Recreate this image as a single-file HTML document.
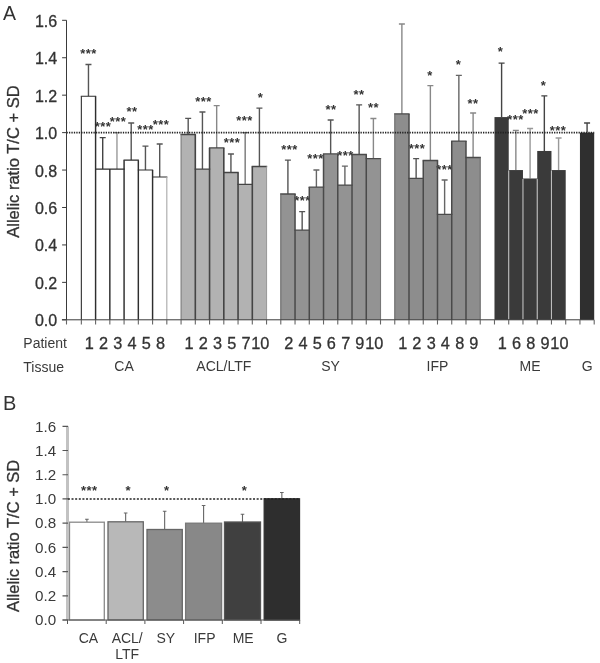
<!DOCTYPE html>
<html lang="en"><head><meta charset="utf-8"><title>Allelic ratio figure</title>
<style>html,body{margin:0;padding:0;background:#fff}body{width:600px;height:663px;overflow:hidden}svg{display:block}text{stroke:#333;stroke-width:.3px}text[stroke=none]{stroke:none}</style>
</head><body>
<svg width="600" height="663" viewBox="0 0 600 663" font-family='"Liberation Sans", sans-serif' fill="#333"><defs><filter id="soft" x="0" y="0" width="100%" height="100%" filterUnits="userSpaceOnUse" color-interpolation-filters="sRGB"><feGaussianBlur stdDeviation="0.4"/></filter></defs><g stroke="none" filter="url(#soft)">
<rect width="600" height="663" fill="#fff"/>
<text x="3" y="19.6" font-size="19.5" stroke="none">A</text>
<text x="3" y="409.8" font-size="20" stroke="none">B</text>
<path d="M88.47 96.30V64.48M85.47 64.48H91.47" stroke="#555" stroke-width="1.4" fill="none"/>
<rect x="81.35" y="96.30" width="14.25" height="223.50" fill="#ffffff"/>
<text x="88.5" y="57.5" font-size="13" font-weight="bold" letter-spacing="0.45" stroke="none" text-anchor="middle">***</text>
<text x="89.3" y="348.5" font-size="16.3" text-anchor="middle">1</text>
<path d="M102.71 169.11V137.67M99.71 137.67H105.71" stroke="#444" stroke-width="1.4" fill="none"/>
<rect x="95.59" y="169.11" width="14.25" height="150.69" fill="#ffffff"/>
<text x="103.0" y="131.1" font-size="13" font-weight="bold" letter-spacing="0.45" stroke="none" text-anchor="middle">***</text>
<text x="103.5" y="348.5" font-size="16.3" text-anchor="middle">2</text>
<path d="M116.96 169.11V132.61M113.96 132.61H119.96" stroke="#999" stroke-width="1.4" fill="none"/>
<rect x="109.84" y="169.11" width="14.25" height="150.69" fill="#ffffff"/>
<text x="118.0" y="126.1" font-size="13" font-weight="bold" letter-spacing="0.45" stroke="none" text-anchor="middle">***</text>
<text x="117.8" y="348.5" font-size="16.3" text-anchor="middle">3</text>
<path d="M131.21 160.13V123.07M128.21 123.07H134.21" stroke="#555" stroke-width="1.4" fill="none"/>
<rect x="124.08" y="160.13" width="14.25" height="159.67" fill="#ffffff"/>
<text x="132.0" y="115.5" font-size="13" font-weight="bold" letter-spacing="0.45" stroke="none" text-anchor="middle">**</text>
<text x="132.0" y="348.5" font-size="16.3" text-anchor="middle">4</text>
<path d="M145.45 170.05V146.09M142.45 146.09H148.45" stroke="#555" stroke-width="1.4" fill="none"/>
<rect x="138.33" y="170.05" width="14.25" height="149.75" fill="#ffffff"/>
<text x="145.4" y="134.1" font-size="13" font-weight="bold" letter-spacing="0.45" stroke="none" text-anchor="middle">***</text>
<text x="146.3" y="348.5" font-size="16.3" text-anchor="middle">5</text>
<path d="M159.70 176.98V144.03M156.70 144.03H162.70" stroke="#555" stroke-width="1.4" fill="none"/>
<rect x="152.58" y="176.98" width="14.25" height="142.82" fill="#ffffff"/>
<text x="161.0" y="128.9" font-size="13" font-weight="bold" letter-spacing="0.45" stroke="none" text-anchor="middle">***</text>
<text x="160.5" y="348.5" font-size="16.3" text-anchor="middle">8</text>
<path d="M81.35 96.30H95.59M95.59 169.11H109.84M109.84 169.11H124.08M124.08 160.13H138.33M138.33 170.05H152.58M152.58 176.98H166.82" stroke="#2e2e2e" stroke-width="1.1" fill="none" stroke-linecap="square"/>
<path d="M95.59 96.30V319.80M109.84 169.11V319.80M124.08 160.13V319.80M138.33 160.13V319.80M152.58 170.05V319.80" stroke="#2e2e2e" stroke-width="1.45" fill="none"/>
<path d="M81.35 96.30V319.80" stroke="#2e2e2e" stroke-width="1.1" fill="none"/>
<path d="M166.82 176.98V319.80" stroke="#a8a8a8" stroke-width="1.1" fill="none"/>
<text x="124.1" y="371.4" font-size="14" text-anchor="middle" stroke="none" fill="#3a3a3a">CA</text>
<path d="M188.19 134.48V118.39M185.19 118.39H191.19" stroke="#555" stroke-width="1.4" fill="none"/>
<rect x="181.07" y="134.48" width="14.25" height="185.32" fill="#b2b2b2"/>
<text x="189.0" y="348.5" font-size="16.3" text-anchor="middle">1</text>
<path d="M202.44 169.11V112.02M199.44 112.02H205.44" stroke="#555" stroke-width="1.4" fill="none"/>
<rect x="195.31" y="169.11" width="14.25" height="150.69" fill="#b2b2b2"/>
<text x="203.4" y="105.5" font-size="13" font-weight="bold" letter-spacing="0.45" stroke="none" text-anchor="middle">***</text>
<text x="203.2" y="348.5" font-size="16.3" text-anchor="middle">2</text>
<path d="M216.68 147.96V105.66M213.68 105.66H219.68" stroke="#888" stroke-width="1.4" fill="none"/>
<rect x="209.56" y="147.96" width="14.25" height="171.84" fill="#b2b2b2"/>
<text x="217.5" y="348.5" font-size="16.3" text-anchor="middle">3</text>
<path d="M230.93 172.48V153.95M227.93 153.95H233.93" stroke="#555" stroke-width="1.4" fill="none"/>
<rect x="223.81" y="172.48" width="14.25" height="147.32" fill="#b2b2b2"/>
<text x="232.0" y="146.5" font-size="13" font-weight="bold" letter-spacing="0.45" stroke="none" text-anchor="middle">***</text>
<text x="231.7" y="348.5" font-size="16.3" text-anchor="middle">5</text>
<path d="M245.17 184.46V132.61M242.17 132.61H248.17" stroke="#777" stroke-width="1.4" fill="none"/>
<rect x="238.05" y="184.46" width="14.25" height="135.34" fill="#b2b2b2"/>
<text x="244.6" y="125.1" font-size="13" font-weight="bold" letter-spacing="0.45" stroke="none" text-anchor="middle">***</text>
<text x="246.0" y="348.5" font-size="16.3" text-anchor="middle">7</text>
<path d="M259.42 166.49V108.09M256.42 108.09H262.42" stroke="#555" stroke-width="1.4" fill="none"/>
<rect x="252.30" y="166.49" width="14.25" height="153.31" fill="#b2b2b2"/>
<text x="260.4" y="101.9" font-size="13" font-weight="bold" letter-spacing="0.45" stroke="none" text-anchor="middle">*</text>
<text x="260.2" y="348.5" font-size="16.3" text-anchor="middle">10</text>
<path d="M181.07 134.48H195.31M195.31 169.11H209.56M209.56 147.96H223.81M223.81 172.48H238.05M238.05 184.46H252.30M252.30 166.49H266.54" stroke="#444" stroke-width="1.3" fill="none" stroke-linecap="square"/>
<path d="M195.31 134.48V319.80M209.56 147.96V319.80M223.81 147.96V319.80M238.05 172.48V319.80M252.30 166.49V319.80" stroke="#444" stroke-width="1.6" fill="none"/>
<path d="M181.07 134.48V319.80" stroke="#7a7a7a" stroke-width="1.1" fill="none"/>
<path d="M266.54 166.49V319.80" stroke="#9c9c9c" stroke-width="1.1" fill="none"/>
<text x="223.8" y="371.4" font-size="14" text-anchor="middle" stroke="none" fill="#3a3a3a">ACL/LTF</text>
<path d="M287.91 194.01V160.13M284.91 160.13H290.91" stroke="#555" stroke-width="1.4" fill="none"/>
<rect x="280.79" y="194.01" width="14.25" height="125.79" fill="#939393"/>
<text x="289.4" y="153.9" font-size="13" font-weight="bold" letter-spacing="0.45" stroke="none" text-anchor="middle">***</text>
<text x="288.7" y="348.5" font-size="16.3" text-anchor="middle">2</text>
<path d="M302.16 230.14V211.61M299.16 211.61H305.16" stroke="#555" stroke-width="1.4" fill="none"/>
<rect x="295.04" y="230.14" width="14.25" height="89.66" fill="#939393"/>
<text x="302.6" y="205.1" font-size="13" font-weight="bold" letter-spacing="0.45" stroke="none" text-anchor="middle">***</text>
<text x="303.0" y="348.5" font-size="16.3" text-anchor="middle">4</text>
<path d="M316.40 187.08V170.05M313.40 170.05H319.40" stroke="#666" stroke-width="1.4" fill="none"/>
<rect x="309.28" y="187.08" width="14.25" height="132.72" fill="#939393"/>
<text x="315.6" y="162.5" font-size="13" font-weight="bold" letter-spacing="0.45" stroke="none" text-anchor="middle">***</text>
<text x="317.2" y="348.5" font-size="16.3" text-anchor="middle">5</text>
<path d="M330.65 153.95V120.07M327.65 120.07H333.65" stroke="#555" stroke-width="1.4" fill="none"/>
<rect x="323.53" y="153.95" width="14.25" height="165.85" fill="#939393"/>
<text x="331.0" y="113.5" font-size="13" font-weight="bold" letter-spacing="0.45" stroke="none" text-anchor="middle">**</text>
<text x="331.4" y="348.5" font-size="16.3" text-anchor="middle">6</text>
<path d="M344.90 185.03V166.12M341.90 166.12H347.90" stroke="#666" stroke-width="1.4" fill="none"/>
<rect x="337.77" y="185.03" width="14.25" height="134.78" fill="#939393"/>
<text x="345.4" y="159.5" font-size="13" font-weight="bold" letter-spacing="0.45" stroke="none" text-anchor="middle">***</text>
<text x="345.7" y="348.5" font-size="16.3" text-anchor="middle">7</text>
<path d="M359.14 154.51V104.91M356.14 104.91H362.14" stroke="#555" stroke-width="1.4" fill="none"/>
<rect x="352.02" y="154.51" width="14.25" height="165.29" fill="#939393"/>
<text x="359.0" y="98.9" font-size="13" font-weight="bold" letter-spacing="0.45" stroke="none" text-anchor="middle">**</text>
<text x="359.9" y="348.5" font-size="16.3" text-anchor="middle">9</text>
<path d="M373.39 158.63V118.57M370.39 118.57H376.39" stroke="#888" stroke-width="1.4" fill="none"/>
<rect x="366.26" y="158.63" width="14.25" height="161.17" fill="#939393"/>
<text x="373.4" y="112.1" font-size="13" font-weight="bold" letter-spacing="0.45" stroke="none" text-anchor="middle">**</text>
<text x="374.2" y="348.5" font-size="16.3" text-anchor="middle">10</text>
<path d="M280.79 194.01H295.04M295.04 230.14H309.28M309.28 187.08H323.53M323.53 153.95H337.77M337.77 185.03H352.02M352.02 154.51H366.26M366.26 158.63H380.51" stroke="#4a4a4a" stroke-width="1.3" fill="none" stroke-linecap="square"/>
<path d="M295.04 194.01V319.80M309.28 187.08V319.80M323.53 153.95V319.80M337.77 153.95V319.80M352.02 154.51V319.80M366.26 154.51V319.80" stroke="#4a4a4a" stroke-width="1.5" fill="none"/>
<path d="M280.79 194.01V319.80" stroke="#666" stroke-width="1.1" fill="none"/>
<path d="M380.51 158.63V319.80" stroke="#777" stroke-width="1.1" fill="none"/>
<text x="330.6" y="371.4" font-size="14" text-anchor="middle" stroke="none" fill="#3a3a3a">SY</text>
<path d="M401.88 113.89V24.04M398.88 24.04H404.88" stroke="#888" stroke-width="1.4" fill="none"/>
<rect x="394.76" y="113.89" width="14.25" height="205.91" fill="#8d8d8d"/>
<text x="402.7" y="348.5" font-size="16.3" text-anchor="middle">1</text>
<path d="M416.13 178.47V158.63M413.13 158.63H419.13" stroke="#555" stroke-width="1.4" fill="none"/>
<rect x="409.00" y="178.47" width="14.25" height="141.33" fill="#8d8d8d"/>
<text x="417.0" y="152.5" font-size="13" font-weight="bold" letter-spacing="0.45" stroke="none" text-anchor="middle">***</text>
<text x="416.9" y="348.5" font-size="16.3" text-anchor="middle">2</text>
<path d="M430.37 160.50V85.63M427.37 85.63H433.37" stroke="#888" stroke-width="1.4" fill="none"/>
<rect x="423.25" y="160.50" width="14.25" height="159.30" fill="#8d8d8d"/>
<text x="430.0" y="80.1" font-size="13" font-weight="bold" letter-spacing="0.45" stroke="none" text-anchor="middle">*</text>
<text x="431.2" y="348.5" font-size="16.3" text-anchor="middle">3</text>
<path d="M444.62 214.41V179.97M441.62 179.97H447.62" stroke="#666" stroke-width="1.4" fill="none"/>
<rect x="437.49" y="214.41" width="14.25" height="105.39" fill="#8d8d8d"/>
<text x="444.4" y="173.5" font-size="13" font-weight="bold" letter-spacing="0.45" stroke="none" text-anchor="middle">***</text>
<text x="445.4" y="348.5" font-size="16.3" text-anchor="middle">4</text>
<path d="M458.86 141.04V75.33M455.86 75.33H461.86" stroke="#666" stroke-width="1.4" fill="none"/>
<rect x="451.74" y="141.04" width="14.25" height="178.76" fill="#8d8d8d"/>
<text x="458.6" y="68.5" font-size="13" font-weight="bold" letter-spacing="0.45" stroke="none" text-anchor="middle">*</text>
<text x="459.7" y="348.5" font-size="16.3" text-anchor="middle">8</text>
<path d="M473.11 157.51V112.96M470.11 112.96H476.11" stroke="#888" stroke-width="1.4" fill="none"/>
<rect x="465.99" y="157.51" width="14.25" height="162.29" fill="#8d8d8d"/>
<text x="473.0" y="107.5" font-size="13" font-weight="bold" letter-spacing="0.45" stroke="none" text-anchor="middle">**</text>
<text x="473.9" y="348.5" font-size="16.3" text-anchor="middle">9</text>
<path d="M394.76 113.89H409.00M409.00 178.47H423.25M423.25 160.50H437.49M437.49 214.41H451.74M451.74 141.04H465.99M465.99 157.51H480.23" stroke="#4a4a4a" stroke-width="1.3" fill="none" stroke-linecap="square"/>
<path d="M409.00 113.89V319.80M423.25 160.50V319.80M437.49 160.50V319.80M451.74 141.04V319.80M465.99 141.04V319.80" stroke="#4a4a4a" stroke-width="1.5" fill="none"/>
<path d="M394.76 113.89V319.80" stroke="#6a6a6a" stroke-width="1.1" fill="none"/>
<path d="M480.23 157.51V319.80" stroke="#6a6a6a" stroke-width="1.1" fill="none"/>
<text x="437.5" y="371.4" font-size="14" text-anchor="middle" stroke="none" fill="#3a3a3a">IFP</text>
<path d="M501.60 117.08V63.17M498.60 63.17H504.60" stroke="#444" stroke-width="1.4" fill="none"/>
<rect x="494.48" y="117.08" width="14.25" height="202.72" fill="#3a3a3a"/>
<text x="500.4" y="55.9" font-size="13" font-weight="bold" letter-spacing="0.45" stroke="none" text-anchor="middle">*</text>
<text x="502.4" y="348.5" font-size="16.3" text-anchor="middle">1</text>
<path d="M515.85 170.05V130.37M512.85 130.37H518.85" stroke="#888" stroke-width="1.4" fill="none"/>
<rect x="508.72" y="170.05" width="14.25" height="149.75" fill="#3a3a3a"/>
<text x="515.6" y="123.5" font-size="13" font-weight="bold" letter-spacing="0.45" stroke="none" text-anchor="middle">***</text>
<text x="516.6" y="348.5" font-size="16.3" text-anchor="middle">6</text>
<path d="M530.09 178.47V128.49M527.09 128.49H533.09" stroke="#999" stroke-width="1.4" fill="none"/>
<rect x="522.97" y="178.47" width="14.25" height="141.33" fill="#3a3a3a"/>
<text x="530.4" y="117.9" font-size="13" font-weight="bold" letter-spacing="0.45" stroke="none" text-anchor="middle">***</text>
<text x="530.9" y="348.5" font-size="16.3" text-anchor="middle">8</text>
<path d="M544.34 150.96V95.92M541.34 95.92H547.34" stroke="#444" stroke-width="1.4" fill="none"/>
<rect x="537.22" y="150.96" width="14.25" height="168.84" fill="#3a3a3a"/>
<text x="543.6" y="89.9" font-size="13" font-weight="bold" letter-spacing="0.45" stroke="none" text-anchor="middle">*</text>
<text x="545.1" y="348.5" font-size="16.3" text-anchor="middle">9</text>
<path d="M558.59 170.05V138.04M555.59 138.04H561.59" stroke="#999" stroke-width="1.4" fill="none"/>
<rect x="551.46" y="170.05" width="14.25" height="149.75" fill="#3a3a3a"/>
<text x="558.0" y="134.5" font-size="13" font-weight="bold" letter-spacing="0.45" stroke="none" text-anchor="middle">***</text>
<text x="559.4" y="348.5" font-size="16.3" text-anchor="middle">10</text>
<path d="M508.72 170.55V319.30" stroke="#bdbdbd" stroke-width="1.1" fill="none"/>
<path d="M522.97 178.97V319.30" stroke="#bdbdbd" stroke-width="1.1" fill="none"/>
<path d="M537.22 178.97V319.30" stroke="#bdbdbd" stroke-width="1.1" fill="none"/>
<path d="M551.46 170.55V319.30" stroke="#bdbdbd" stroke-width="1.1" fill="none"/>
<text x="530.1" y="371.4" font-size="14" text-anchor="middle" stroke="none" fill="#3a3a3a">ME</text>
<path d="M587.08 132.61V123.07M584.08 123.07H590.08" stroke="#444" stroke-width="1.4" fill="none"/>
<rect x="579.95" y="132.61" width="14.25" height="187.19" fill="#2f2f2f"/>
<text x="587.1" y="371.4" font-size="14" text-anchor="middle" stroke="none" fill="#3a3a3a">G</text>
<path d="M66.5 132.61H594.2" stroke="#222" stroke-width="1.6" stroke-dasharray="1.3 1.15" fill="none"/>
<path d="M66.50 20.30V319.80M61.90 319.80H594.20M62.10 319.80H66.50M62.10 282.36H66.50M62.10 244.93H66.50M62.10 207.49H66.50M62.10 170.05H66.50M62.10 132.61H66.50M62.10 95.17H66.50M62.10 57.74H66.50M62.10 20.30H66.50" stroke="#3a3a3a" stroke-width="1" fill="none"/>
<path d="M66.50 320.10V324.40M81.35 320.10V324.40M95.59 320.10V324.40M109.84 320.10V324.40M124.08 320.10V324.40M138.33 320.10V324.40M152.58 320.10V324.40M166.82 320.10V324.40M181.07 320.10V324.40M195.31 320.10V324.40M209.56 320.10V324.40M223.81 320.10V324.40M238.05 320.10V324.40M252.30 320.10V324.40M266.54 320.10V324.40M280.79 320.10V324.40M295.04 320.10V324.40M309.28 320.10V324.40M323.53 320.10V324.40M337.77 320.10V324.40M352.02 320.10V324.40M366.26 320.10V324.40M380.51 320.10V324.40M394.76 320.10V324.40M409.00 320.10V324.40M423.25 320.10V324.40M437.49 320.10V324.40M451.74 320.10V324.40M465.99 320.10V324.40M480.23 320.10V324.40M494.48 320.10V324.40M508.72 320.10V324.40M522.97 320.10V324.40M537.22 320.10V324.40M551.46 320.10V324.40M565.71 320.10V324.40M579.95 320.10V324.40M594.20 320.10V324.40" stroke="#666" stroke-width="1.1" fill="none"/>
<text x="57.2" y="326.2" font-size="16" text-anchor="end">0.0</text>
<text x="57.2" y="288.8" font-size="16" text-anchor="end">0.2</text>
<text x="57.2" y="251.3" font-size="16" text-anchor="end">0.4</text>
<text x="57.2" y="213.9" font-size="16" text-anchor="end">0.6</text>
<text x="57.2" y="176.5" font-size="16" text-anchor="end">0.8</text>
<text x="57.2" y="139.0" font-size="16" text-anchor="end">1.0</text>
<text x="57.2" y="101.6" font-size="16" text-anchor="end">1.2</text>
<text x="57.2" y="64.1" font-size="16" text-anchor="end">1.4</text>
<text x="57.2" y="26.7" font-size="16" text-anchor="end">1.6</text>
<text transform="translate(18.6 161.6) rotate(-90)" font-size="16.5" text-anchor="middle">Allelic ratio T/C + SD</text>
<text x="23.3" y="347.6" font-size="14" stroke="none" fill="#3a3a3a">Patient</text>
<text x="23.3" y="371.8" font-size="14" stroke="none" fill="#3a3a3a">Tissue</text>
<path d="M86.90 522.20V519.30M85.10 519.30H88.70" stroke="#666" stroke-width="1.1" fill="none"/>
<rect x="69.50" y="522.20" width="34.80" height="97.80" fill="#ffffff" stroke="#8a8a8a" stroke-width="1.3"/>
<text x="89.3" y="495.2" font-size="13" font-weight="bold" letter-spacing="0.45" stroke="none" text-anchor="middle">***</text>
<text x="88.4" y="642.8" font-size="14" text-anchor="middle" stroke="none" fill="#3a3a3a">CA</text>
<path d="M125.65 521.80V513.00M123.85 513.00H127.45" stroke="#666" stroke-width="1.1" fill="none"/>
<rect x="108.00" y="521.80" width="35.30" height="98.20" fill="#b8b8b8" stroke="#666" stroke-width="1.3"/>
<text x="128.3" y="495.2" font-size="13" font-weight="bold" letter-spacing="0.45" stroke="none" text-anchor="middle">*</text>
<text x="127.2" y="642.8" font-size="14" text-anchor="middle" stroke="none" fill="#3a3a3a">ACL/</text>
<text x="127.2" y="658.8" font-size="14" text-anchor="middle" stroke="none" fill="#3a3a3a">LTF</text>
<path d="M164.65 529.50V511.30M162.85 511.30H166.45" stroke="#666" stroke-width="1.1" fill="none"/>
<rect x="147.00" y="529.50" width="35.30" height="90.50" fill="#8c8c8c" stroke="#666" stroke-width="1.3"/>
<text x="166.8" y="495.2" font-size="13" font-weight="bold" letter-spacing="0.45" stroke="none" text-anchor="middle">*</text>
<text x="165.8" y="642.8" font-size="14" text-anchor="middle" stroke="none" fill="#3a3a3a">SY</text>
<path d="M203.60 523.20V505.50M201.80 505.50H205.40" stroke="#666" stroke-width="1.1" fill="none"/>
<rect x="185.60" y="523.20" width="36.00" height="96.80" fill="#888888" stroke="#777" stroke-width="1.3"/>
<text x="204.6" y="642.8" font-size="14" text-anchor="middle" stroke="none" fill="#3a3a3a">IFP</text>
<path d="M242.50 522.00V514.30M240.70 514.30H244.30" stroke="#666" stroke-width="1.1" fill="none"/>
<rect x="224.50" y="522.00" width="36.00" height="98.00" fill="#404040" stroke="#555" stroke-width="1.3"/>
<text x="244.5" y="495.2" font-size="13" font-weight="bold" letter-spacing="0.45" stroke="none" text-anchor="middle">*</text>
<text x="243.2" y="642.8" font-size="14" text-anchor="middle" stroke="none" fill="#3a3a3a">ME</text>
<path d="M281.85 498.80V492.50M280.05 492.50H283.65" stroke="#666" stroke-width="1.1" fill="none"/>
<rect x="264.20" y="498.80" width="35.30" height="121.20" fill="#2e2e2e" stroke="#2e2e2e" stroke-width="1.3"/>
<text x="282.0" y="642.8" font-size="14" text-anchor="middle" stroke="none" fill="#3a3a3a">G</text>
<path d="M67.50 426.30V620.00" stroke="#c2c2c2" stroke-width="3" fill="none"/>
<path d="M62.50 620.00H68.00M62.50 595.79H68.00M62.50 571.58H68.00M62.50 547.36H68.00M62.50 523.15H68.00M62.50 498.94H68.00M62.50 474.73H68.00M62.50 450.51H68.00M62.50 426.30H68.00" stroke="#555" stroke-width="1.2" fill="none"/>
<path d="M62.50 620.00H300M67.50 620.00V624.00M106.20 620.00V624.00M144.90 620.00V624.00M183.60 620.00V624.00M222.30 620.00V624.00M261.00 620.00V624.00M299.70 620.00V624.00" stroke="#555" stroke-width="1" fill="none"/>
<path d="M67.9 498.94H299.5" stroke="#222" stroke-width="1.4" stroke-dasharray="2 1.63" fill="none"/>
<text x="56.2" y="625.3" font-size="15.2" text-anchor="end" stroke="none" fill="#3a3a3a">0.0</text>
<text x="56.2" y="601.1" font-size="15.2" text-anchor="end" stroke="none" fill="#3a3a3a">0.2</text>
<text x="56.2" y="576.9" font-size="15.2" text-anchor="end" stroke="none" fill="#3a3a3a">0.4</text>
<text x="56.2" y="552.7" font-size="15.2" text-anchor="end" stroke="none" fill="#3a3a3a">0.6</text>
<text x="56.2" y="528.4" font-size="15.2" text-anchor="end" stroke="none" fill="#3a3a3a">0.8</text>
<text x="56.2" y="504.2" font-size="15.2" text-anchor="end" stroke="none" fill="#3a3a3a">1.0</text>
<text x="56.2" y="480.0" font-size="15.2" text-anchor="end" stroke="none" fill="#3a3a3a">1.2</text>
<text x="56.2" y="455.8" font-size="15.2" text-anchor="end" stroke="none" fill="#3a3a3a">1.4</text>
<text x="56.2" y="431.6" font-size="15.2" text-anchor="end" stroke="none" fill="#3a3a3a">1.6</text>
<text transform="translate(18.6 535.9) rotate(-90)" font-size="16.5" text-anchor="middle">Allelic ratio T/C + SD</text>
</g></svg>
</body></html>
